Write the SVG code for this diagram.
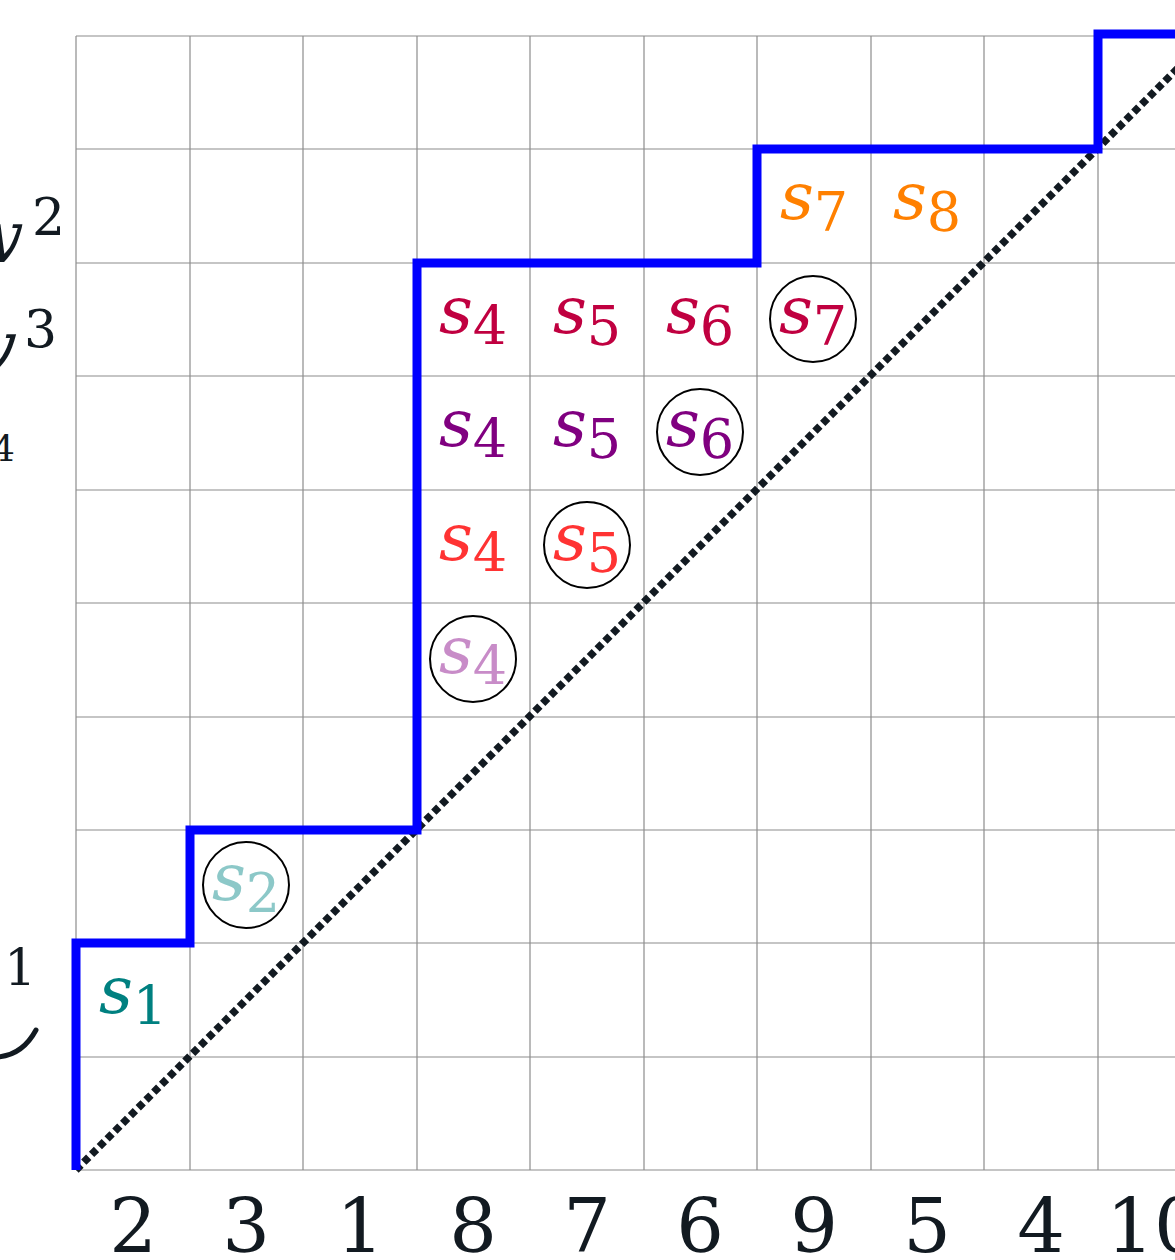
<svg xmlns="http://www.w3.org/2000/svg" width="1175" height="1260" viewBox="0 0 1175 1260" font-family="'DejaVu Serif', 'Liberation Serif', serif">
<style>
.grid line{stroke:#8c8c8c;stroke-width:1.2}
.lab{text-anchor:middle}
.s{font-style:italic;font-size:66px}
.sub{font-size:54px}
.num{font-size:75px;fill:#121a21;text-anchor:middle}
.side{fill:#121a21}
.ring{fill:none;stroke:#000;stroke-width:2}
</style>
<rect width="1175" height="1260" fill="#fff"/>
<g class="grid">
<line x1="76" y1="36" x2="76" y2="1170"/><line x1="190" y1="36" x2="190" y2="1170"/><line x1="303" y1="36" x2="303" y2="1170"/><line x1="417" y1="36" x2="417" y2="1170"/><line x1="530" y1="36" x2="530" y2="1170"/><line x1="644" y1="36" x2="644" y2="1170"/><line x1="757" y1="36" x2="757" y2="1170"/><line x1="871" y1="36" x2="871" y2="1170"/><line x1="984" y1="36" x2="984" y2="1170"/><line x1="1098" y1="36" x2="1098" y2="1170"/>
<line x1="76" y1="36" x2="1175" y2="36"/><line x1="76" y1="149" x2="1175" y2="149"/><line x1="76" y1="263" x2="1175" y2="263"/><line x1="76" y1="376" x2="1175" y2="376"/><line x1="76" y1="490" x2="1175" y2="490"/><line x1="76" y1="603" x2="1175" y2="603"/><line x1="76" y1="717" x2="1175" y2="717"/><line x1="76" y1="830" x2="1175" y2="830"/><line x1="76" y1="943" x2="1175" y2="943"/><line x1="76" y1="1057" x2="1175" y2="1057"/><line x1="76" y1="1170" x2="1175" y2="1170"/>
</g>
<g id="connectors">
<line x1="76" y1="1170" x2="1211" y2="35" stroke="#121a21" stroke-width="7.5" stroke-dasharray="7 4"/>
<path d="M76 1170 V943 H190 V830 H417 V263 H757 V149 H1098 V34 H1180" fill="none" stroke="#0000ff" stroke-width="9"/>
</g>
<g id="n-s1"><text class="lab" x="133" y="1013" fill="#008080"><tspan class="s">s</tspan><tspan class="sub" dy="12">1</tspan></text></g>
<g id="n-s2"><circle class="ring" cx="246" cy="885" r="43"/><text class="lab" x="246" y="900" fill="#8cc8c8"><tspan class="s">s</tspan><tspan class="sub" dy="12">2</tspan></text></g>
<g id="n-s4a"><circle class="ring" cx="473" cy="659" r="43"/><text class="lab" x="473" y="673" fill="#c88cc8"><tspan class="s">s</tspan><tspan class="sub" dy="12">4</tspan></text></g>
<g id="n-s4b"><text class="lab" x="473" y="560" fill="#ff3333"><tspan class="s">s</tspan><tspan class="sub" dy="12">4</tspan></text></g>
<g id="n-s5b"><circle class="ring" cx="587" cy="545" r="43"/><text class="lab" x="587" y="560" fill="#ff3333"><tspan class="s">s</tspan><tspan class="sub" dy="12">5</tspan></text></g>
<g id="n-s4c"><text class="lab" x="473" y="446" fill="#800080"><tspan class="s">s</tspan><tspan class="sub" dy="12">4</tspan></text></g>
<g id="n-s5c"><text class="lab" x="587" y="446" fill="#800080"><tspan class="s">s</tspan><tspan class="sub" dy="12">5</tspan></text></g>
<g id="n-s6c"><circle class="ring" cx="700" cy="432" r="43"/><text class="lab" x="700" y="446" fill="#800080"><tspan class="s">s</tspan><tspan class="sub" dy="12">6</tspan></text></g>
<g id="n-s4d"><text class="lab" x="473" y="333" fill="#c00040"><tspan class="s">s</tspan><tspan class="sub" dy="12">4</tspan></text></g>
<g id="n-s5d"><text class="lab" x="587" y="333" fill="#c00040"><tspan class="s">s</tspan><tspan class="sub" dy="12">5</tspan></text></g>
<g id="n-s6d"><text class="lab" x="700" y="333" fill="#c00040"><tspan class="s">s</tspan><tspan class="sub" dy="12">6</tspan></text></g>
<g id="n-s7d"><circle class="ring" cx="813" cy="319" r="43"/><text class="lab" x="813" y="333" fill="#c00040"><tspan class="s">s</tspan><tspan class="sub" dy="12">7</tspan></text></g>
<g id="n-s7e"><text class="lab" x="814" y="219" fill="#ff8000"><tspan class="s">s</tspan><tspan class="sub" dy="12">7</tspan></text></g>
<g id="n-s8e"><text class="lab" x="927" y="219" fill="#ff8000"><tspan class="s">s</tspan><tspan class="sub" dy="12">8</tspan></text></g>
<g id="axis">
<text class="num" x="133" y="1252">2</text><text class="num" x="246" y="1252">3</text><text class="num" x="360" y="1252">1</text><text class="num" x="473" y="1252">8</text><text class="num" x="587" y="1252">7</text><text class="num" x="700" y="1252">6</text><text class="num" x="814" y="1252">9</text><text class="num" x="927" y="1252">5</text><text class="num" x="1041" y="1252">4</text><text class="num" x="1154" y="1252">10</text>
</g>
<g id="side">
<text class="side" x="24" y="262" font-size="72" font-style="italic" text-anchor="end">w</text>
<text class="side" x="32" y="235" font-size="52">2</text>
<text class="side" x="17" y="372" font-size="72" font-style="italic" text-anchor="end">v</text>
<text class="side" x="24" y="347" font-size="52">3</text>
<text class="side" x="15" y="461" font-size="36" text-anchor="end">4</text>
<text class="side" x="36" y="985" font-size="50" text-anchor="end">−1</text>
<path d="M-4 1057 Q22 1056 36 1030" fill="none" stroke="#121a21" stroke-width="5" stroke-linecap="round"/>
</g>
</svg>
